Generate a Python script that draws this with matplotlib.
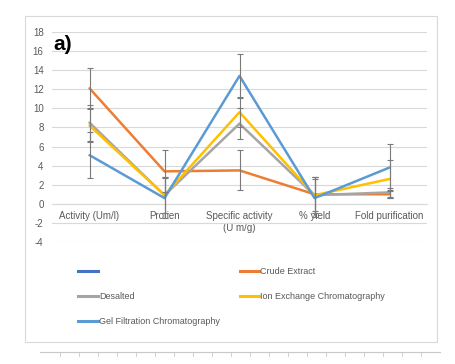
import matplotlib
matplotlib.use("Agg")
import matplotlib.pyplot as plt
from matplotlib.lines import Line2D
import numpy as np

categories = ["Activity (Um/l)", "Protien", "Specific activity\n(U m/g)", "% yield", "Fold purification"]
series_names = ["Crude Extract", "Desalted", "Ion Exchange Chromatography", "Gel Filtration Chromatography"]
crude = [12.1, 3.4, 3.5, 1.0, 1.0]
desalted = [8.5, 0.9, 8.4, 0.9, 1.2]
ion_exchange = [8.2, 0.9, 9.6, 0.9, 2.6]
gel_filtration = [5.1, 0.6, 13.4, 0.6, 3.8]
crude_err = [2.1, 2.2, 2.1, 1.8, 0.4]
desalted_err = [1.9, 1.9, 1.6, 1.9, 0.5]
ion_err = [1.7, 1.9, 1.6, 1.9, 2.0]
gel_err = [2.4, 2.1, 2.3, 2.0, 2.5]
yticks = list(range(-4, 19, 2))

colors = {"first": "#4472C4", "Crude Extract": "#ED7D31", "Desalted": "#A5A5A5",
          "Ion Exchange Chromatography": "#FFC000", "Gel Filtration Chromatography": "#5B9BD5"}

plt.rcParams['font.family'] = ['Liberation Sans', 'DejaVu Sans']
fig = plt.figure(figsize=(4.55, 3.64), dpi=100)
# outer chart frame
fig.patches.append(plt.Rectangle((25/455, 1-342/364), 412/455, 326/364, transform=fig.transFigure,
                                 fill=False, edgecolor="#d9d9d9", linewidth=0.8))
ax = fig.add_axes([52/455, 1-242/364, 375/455, 210/364])
x = np.arange(len(categories))
data = [crude, desalted, ion_exchange, gel_filtration]
errs = [crude_err, desalted_err, ion_err, gel_err]
for name, vals in zip(series_names, data):
    ax.plot(x, vals, color=colors[name], linewidth=1.8, zorder=3, solid_capstyle='round')
for vals, er in zip(data, errs):
    ax.errorbar(x, vals, yerr=er, fmt='none', ecolor="#7a7a7a", elinewidth=0.8, capsize=2.5,
                capthick=0.8, zorder=4)

ax.set_xlim(-0.5, len(categories) - 0.5)
ax.set_ylim(-4, 18)
ax.set_yticks(yticks)
ax.set_yticklabels([str(t) for t in yticks], fontsize=7, color="#595959")
ax.grid(axis='y', color="#d9d9d9", linewidth=0.8)
ax.set_axisbelow(True)
for s in ['top', 'right', 'left']:
    ax.spines[s].set_visible(False)
ax.spines['bottom'].set_position(('data', 0))
ax.spines['bottom'].set_color("#d9d9d9")
ax.tick_params(axis='y', length=0, pad=6)
ax.tick_params(axis='x', length=0, pad=5)
ax.set_xticks(x)
ax.set_xticklabels(categories, fontsize=7, color="#595959", linespacing=1.3, va='top')
ax.text(0.005, 0.985, "a)", transform=ax.transAxes, fontsize=15, fontweight='bold', va='top', ha='left')

handles = [Line2D([], [], color=colors["first"], lw=2.2),
           Line2D([], [], color=colors["Desalted"], lw=2.2),
           Line2D([], [], color=colors["Gel Filtration Chromatography"], lw=2.2),
           Line2D([], [], color=colors["Crude Extract"], lw=2.2),
           Line2D([], [], color=colors["Ion Exchange Chromatography"], lw=2.2)]
labels = ["", "Desalted", "Gel Filtration Chromatography", "Crude Extract", "Ion Exchange Chromatography"]
leg = fig.legend(handles, labels, ncol=2, loc='upper left', bbox_to_anchor=(70/455, 1-259/364),
                 frameon=False, fontsize=6.5, handlelength=2.2, handletextpad=0.1,
                 columnspacing=2.2, labelspacing=1.75)
for t in leg.get_texts():
    t.set_color("#595959")

# bottom ruler artifact
fig.add_artist(Line2D([40/455, 440/455], [1-352/364, 1-352/364], transform=fig.transFigure,
                      color="#c8c8c8", lw=0.8))
for px in np.arange(60, 440, 19):
    fig.add_artist(Line2D([px/455, px/455], [1-352/364, 1-356/364], transform=fig.transFigure,
                          color="#c8c8c8", lw=0.6))

fig.savefig("out.png", dpi=100, facecolor="white")
